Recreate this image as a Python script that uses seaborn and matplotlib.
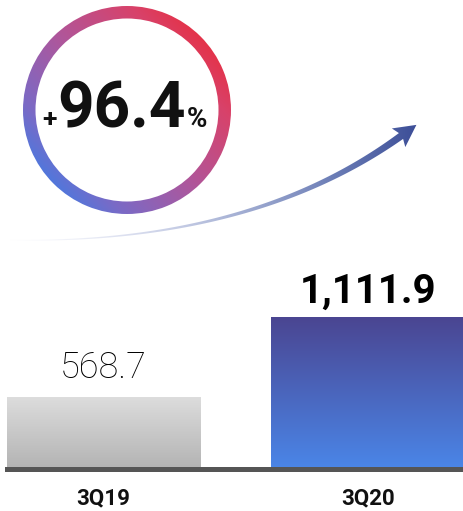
import numpy as np
import pandas as pd
import matplotlib
matplotlib.use("Agg")
import matplotlib.pyplot as plt
import seaborn as sns
from matplotlib.patches import Wedge, Polygon
from matplotlib.colors import LinearSegmentedColormap, to_rgb

# ---- data ----
categories = ["3Q19", "3Q20"]
values = [568.7, 1111.9]
growth_value = "96.4"
growth_sign = "+"
growth_unit = "%"

# ---- styles ----
bar_gradients = [("#dddddd", "#b3b3b3"), ("#4b4591", "#4a86e8")]
label_sizes = [26, 29]
label_weights = ["light", "bold"]
label_offsets = [13.5, 10.5]
text_color = "#111111"

sns.set_theme(style="white")
plt.rcParams["font.family"] = ["Roboto", "DejaVu Sans"]

W, H = 464, 511
fig = plt.figure(figsize=(W / 100, H / 100), dpi=100)
fig.patch.set_facecolor("white")

# background overlay axes in pixel coordinates (y down)
bg = fig.add_axes([0, 0, 1, 1])
bg.set_xlim(0, W)
bg.set_ylim(H, 0)
bg.axis("off")
bg.set_zorder(0)

# ---- bar axes ----
base_px, top_px, left_px = 469.2, 300, 7
ax = fig.add_axes([left_px / W, (H - base_px) / H, (W - left_px) / W, (base_px - top_px) / H])
ax.set_zorder(1)
ax.patch.set_alpha(0)

df = pd.DataFrame({"quarter": categories, "value": values})
sns.barplot(data=df, x="quarter", y="value", ax=ax, width=0.73, color="#cccccc",
            saturation=1, errorbar=None)

ylo, yhi = 78.5, 1227.4
xlo, xhi = -0.365, 1.363

for p, (c_top, c_bot) in zip(ax.patches, bar_gradients):
    x0 = p.get_x()
    w = p.get_width()
    top = p.get_height()
    g = np.linspace(0, 1, 256)[:, None, None]
    cols = (1 - g) * np.array(to_rgb(c_top))[None, None, :] + g * np.array(to_rgb(c_bot))[None, None, :]
    im = ax.imshow(cols, extent=[x0, x0 + w, ylo, top], origin="upper", aspect="auto",
                   interpolation="bilinear", zorder=1)
    im.set_clip_path(p)
    p.set_facecolor("none")
    p.set_edgecolor("none")

ax.set_xlim(xlo, xhi)
ax.set_ylim(ylo, yhi)
sns.despine(ax=ax, left=True, top=True, right=True)
ax.spines["bottom"].set_linewidth(3.6)
ax.spines["bottom"].set_color("#555555")
ax.set_yticks([])
ax.set_ylabel("")
ax.set_xlabel("")
ax.set_xticks(range(len(categories)))
ax.set_xticklabels(categories, fontsize=16, fontweight="bold", color=text_color)
ax.tick_params(axis="x", length=0, pad=13)

for i, v in enumerate(values):
    ax.annotate(f"{v:,.1f}", xy=(i, v), xytext=(0, label_offsets[i]), textcoords="offset points",
                ha="center", va="baseline", fontsize=label_sizes[i], fontweight=label_weights[i],
                color="#000000", annotation_clip=False)

# ---- gradient ring ----
cx, cy, R, ring_w = 127, 110, 104, 12.5
n = 500
xs = np.linspace(cx - R, cx + R, n)
ys = np.linspace(cy - R, cy + R, n)
XX, YY = np.meshgrid(xs, ys)
ang = np.deg2rad(42)
t = ((XX - cx) * np.cos(ang) + (cy - YY) * np.sin(ang)) / R
ring_cmap = LinearSegmentedColormap.from_list(
    "ring", [(0.0, "#5277db"), (0.15, "#7a6ac6"), (0.5, "#b0569a"), (0.85, "#d8426a"), (1.0, "#e4334a")])
img = ring_cmap(np.clip((t + 1) / 2, 0, 1))
im = bg.imshow(img, extent=[cx - R, cx + R, cy + R, cy - R], origin="upper", aspect="auto",
               interpolation="bilinear")
ring = Wedge((cx, cy), R, 0, 360, width=ring_w, facecolor="none", edgecolor="none")
bg.add_patch(ring)
im.set_clip_path(ring)
bg.set_xlim(0, W)
bg.set_ylim(H, 0)

# ---- growth text ----
bg.text(57, 127, growth_value, fontsize=46, fontweight="bold", ha="left", va="baseline", color=text_color)
bg.text(57, 127, growth_sign, fontsize=19, fontweight="bold", ha="right", va="baseline", color=text_color)
bg.text(187, 127, growth_unit, fontsize=20, fontweight="bold", ha="left", va="baseline", color=text_color)

# ---- gradient arrow ----
P0 = np.array([8.0, 240.0])
P1 = np.array([250.0, 245.0])
P2 = np.array([401.0, 136.0])
tt = np.linspace(0, 1, 200)[:, None]
B = (1 - tt) ** 2 * P0 + 2 * (1 - tt) * tt * P1 + tt ** 2 * P2
D = 2 * (1 - tt) * (P1 - P0) + 2 * tt * (P2 - P1)
D = D / np.linalg.norm(D, axis=1, keepdims=True)
N = np.column_stack([-D[:, 1], D[:, 0]])
wid = 0.8 + 6.4 * tt[:, 0] ** 1.5
upper = B + N * wid[:, None] / 2
lower = B - N * wid[:, None] / 2
d = D[-1]
nn = N[-1]
tip = P2 + 19 * d
c1 = P2 - 3 * d + 11.5 * nn
c2 = P2 - 3 * d - 11.5 * nn
outline = np.vstack([upper, c1, tip, c2, lower[::-1]])
arrow_poly = Polygon(outline, closed=True, facecolor="none", edgecolor="none")
bg.add_patch(arrow_poly)

ax_x = np.linspace(0, W, 600)
stops_x = [8, 120, 240, 330, 420]
stops_c = np.array([
    [0.82, 0.84, 0.93, 0.0],
    [0.74, 0.77, 0.89, 0.5],
    [0.60, 0.65, 0.81, 0.9],
    [0.43, 0.50, 0.72, 1.0],
    [0.23, 0.30, 0.59, 1.0],
])
row = np.stack([np.interp(ax_x, stops_x, stops_c[:, k]) for k in range(4)], axis=-1)
arrow_img = np.repeat(row[None, :, :], 50, axis=0)
im2 = bg.imshow(arrow_img, extent=[0, W, 260, 100], origin="upper", aspect="auto",
                interpolation="bilinear")
im2.set_clip_path(arrow_poly)
bg.set_xlim(0, W)
bg.set_ylim(H, 0)

fig.savefig("out.png", dpi=100, facecolor="white")
